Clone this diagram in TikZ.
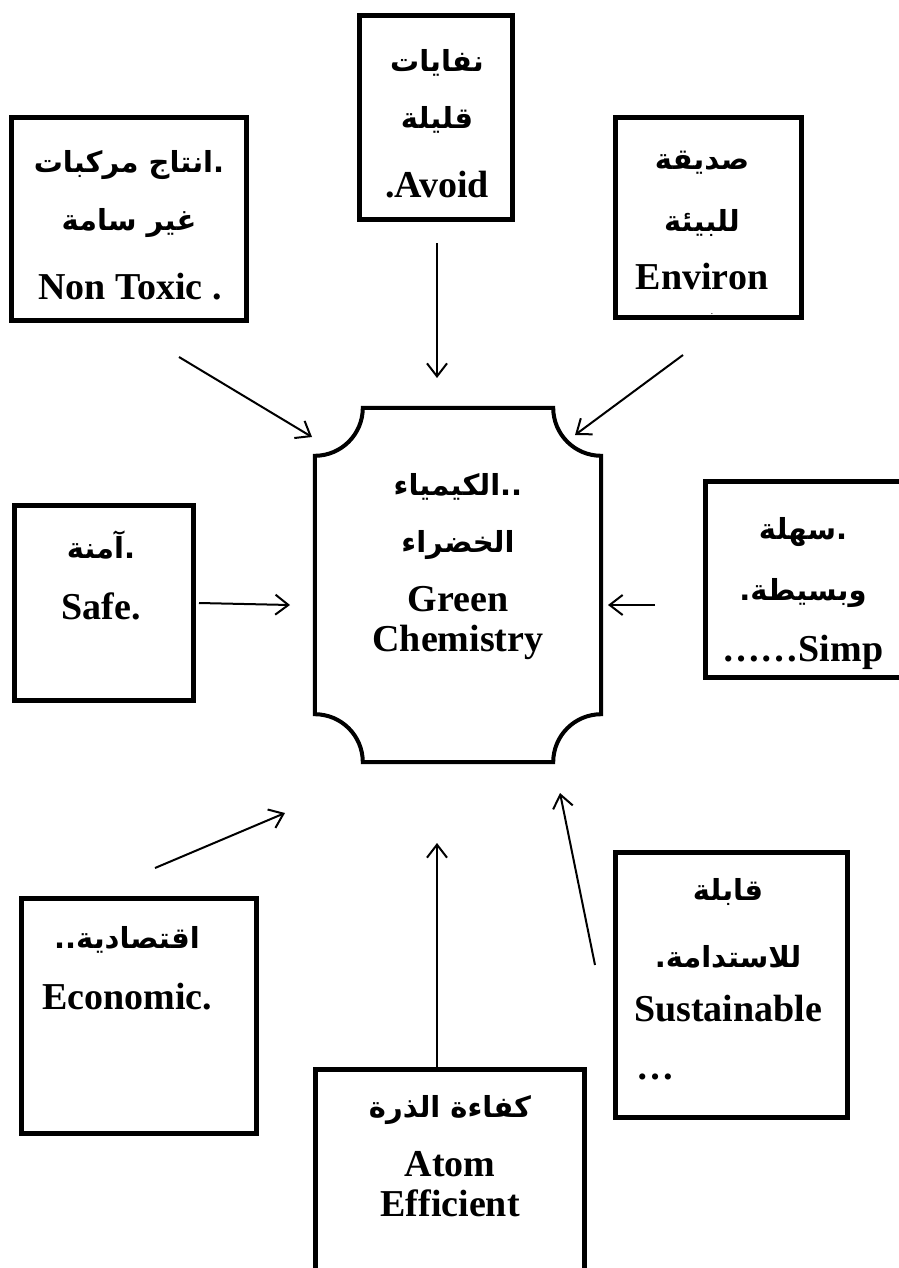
\documentclass[tikz,border=0pt]{standalone}
\usepackage{fontspec}
\setmainfont{Liberation Serif}
\newfontfamily\arabicfont[Script=Arabic]{DejaVu Sans}
\TeXXeTstate=1
\usetikzlibrary{
  arrows.meta,
  calc,
  positioning,
}
\tikzset{
  >={Straight Barb[length=13pt,width=20pt]},
  box/.style={draw, line width=5pt, inner sep=0pt},
  en/.style={font=\fontsize{38}{40}\selectfont\bfseries, inner sep=0pt,
    text height=26pt, text depth=8pt},
  ar/.style={font=\fontsize{29}{34}\selectfont\arabicfont\bfseries, inner sep=0pt},
  link/.style={->, line width=2pt},
}
\newcommand\artext[1]{\beginR #1\endR}

\begin{document}
\begin{tikzpicture}[x=1pt, y=1pt]

        \useasboundingbox (0,0) rectangle (898,-1268);

        \node [box, minimum width=235, minimum height=203] (toxic) at (129,-219) {};
        \node [box, minimum width=153, minimum height=204] (avoid) at (436,-117.5) {};
        \node [box, minimum width=186, minimum height=200] (environ) at (708.5,-217.5) {};
        \node [box, minimum width=179, minimum height=195] (safe) at (104,-603) {};
        \node [box, minimum width=197, minimum height=196] (simp) at (804,-579.5) {};
        \node [box, minimum width=235, minimum height=235] (econ) at (139,-1016) {};
        \node [box, minimum width=269, minimum height=203] (atom) at (450,-1171) {};
        \node [box, minimum width=232, minimum height=265] (sustain) at (731.5,-985) {};

        \node [minimum width=286, minimum height=354, inner sep=0pt] (chem) at (458,-585) {};
        \draw [line width=4pt]
              ($(chem.north west)+(0,-48)$) arc [start angle=-90, end angle=0, radius=48pt]
              -- ($(chem.north east)+(-48,0)$) arc [start angle=180, end angle=270, radius=48pt]
              -- ($(chem.south east)+(0,48)$) arc [start angle=90, end angle=180, radius=48pt]
              -- ($(chem.south west)+(48,0)$) arc [start angle=0, end angle=90, radius=48pt]
              -- cycle;

        \node [ar] (toxic-1) at (129,-165) {\artext{.انتاج مركبات}};
        \node [ar] (toxic-2) at (129,-223) {\artext{غير سامة}};
        \node [en] (toxic-3) at (130,-290) {Non Toxic .};

        \node [ar] (avoid-1) at (437,-63) {\artext{نفايات}};
        \node [ar] (avoid-2) at (437,-120) {\artext{قليلة}};
        \node [en] (avoid-3) at (437,-188) {.Avoid};

        \node [ar] (environ-1) at (702,-163) {\artext{صديقة}};
        \node [ar] (environ-2) at (702,-223) {\artext{للبيئة}};
        \node [en] (environ-3) at (702,-280) {Environ};
        \node [en] (environ-4) at (712,-305) {\scriptsize .};

        \node [ar] (chem-1) at (458,-487) {\artext{..الكيمياء}};
        \node [ar] (chem-2) at (458,-545) {\artext{الخضراء}};
        \node [en] (chem-3) at (458,-602) {Green};
        \node [en] (chem-4) at (458,-642) {Chemistry};

        \node [ar] (safe-1) at (101,-545) {\artext{.آمنة}};
        \node [en] (safe-2) at (101,-610) {Safe.};

        \node [ar] (simp-1) at (803,-532) {\artext{.سهلة}};
        \node [ar] (simp-2) at (803,-593) {\artext{وبسيطة.}};
        \node [en] (simp-3) at (803,-652) {……Simp};

        \node [ar] (econ-1) at (127,-940) {\artext{اقتصادية..}};
        \node [en] (econ-2) at (127,-1000) {Economic.};

        \node [ar] (atom-1) at (450,-1110) {\artext{كفاءة الذرة}};
        \node [en] (atom-2) at (450,-1167) {Atom};
        \node [en] (atom-3) at (450,-1207) {Efficient};

        \node [ar] (sustain-1) at (728,-892) {\artext{قابلة}};
        \node [ar] (sustain-2) at (728,-957) {\artext{للاستدامة.}};
        \node [en] (sustain-3) at (728,-1012) {Sustainable};
        \node [en, anchor=west] (sustain-4) at (636,-1070) {…};

        \coordinate (a1s) at (179,-357);   \coordinate (a1e) at (312,-437);
        \coordinate (a2s) at (437,-243);   \coordinate (a2e) at (437,-378);
        \coordinate (a3s) at (683,-355);   \coordinate (a3e) at (575,-435);
        \coordinate (a4s) at (199,-603);   \coordinate (a4e) at (290,-605);
        \coordinate (a5s) at (655,-605);   \coordinate (a5e) at (608,-605);
        \coordinate (a6s) at (155,-868);   \coordinate (a6e) at (285,-813);
        \coordinate (a7e) at (437,-843);
        \coordinate (a8s) at (595,-965);   \coordinate (a8e) at (560,-793);

        \draw [link] (a1s) -- (a1e);
        \draw [link] (a2s) -- (a2e);
        \draw [link] (a3s) -- (a3e);
        \draw [link] (a4s) -- (a4e);
        \draw [link] (a5s) -- (a5e);
        \draw [link] (a6s) -- (a6e);
        \draw [link] (atom.north -| a7e) -- (a7e);
        \draw [link] (a8s) -- (a8e);

      \end{tikzpicture}
\end{document}
